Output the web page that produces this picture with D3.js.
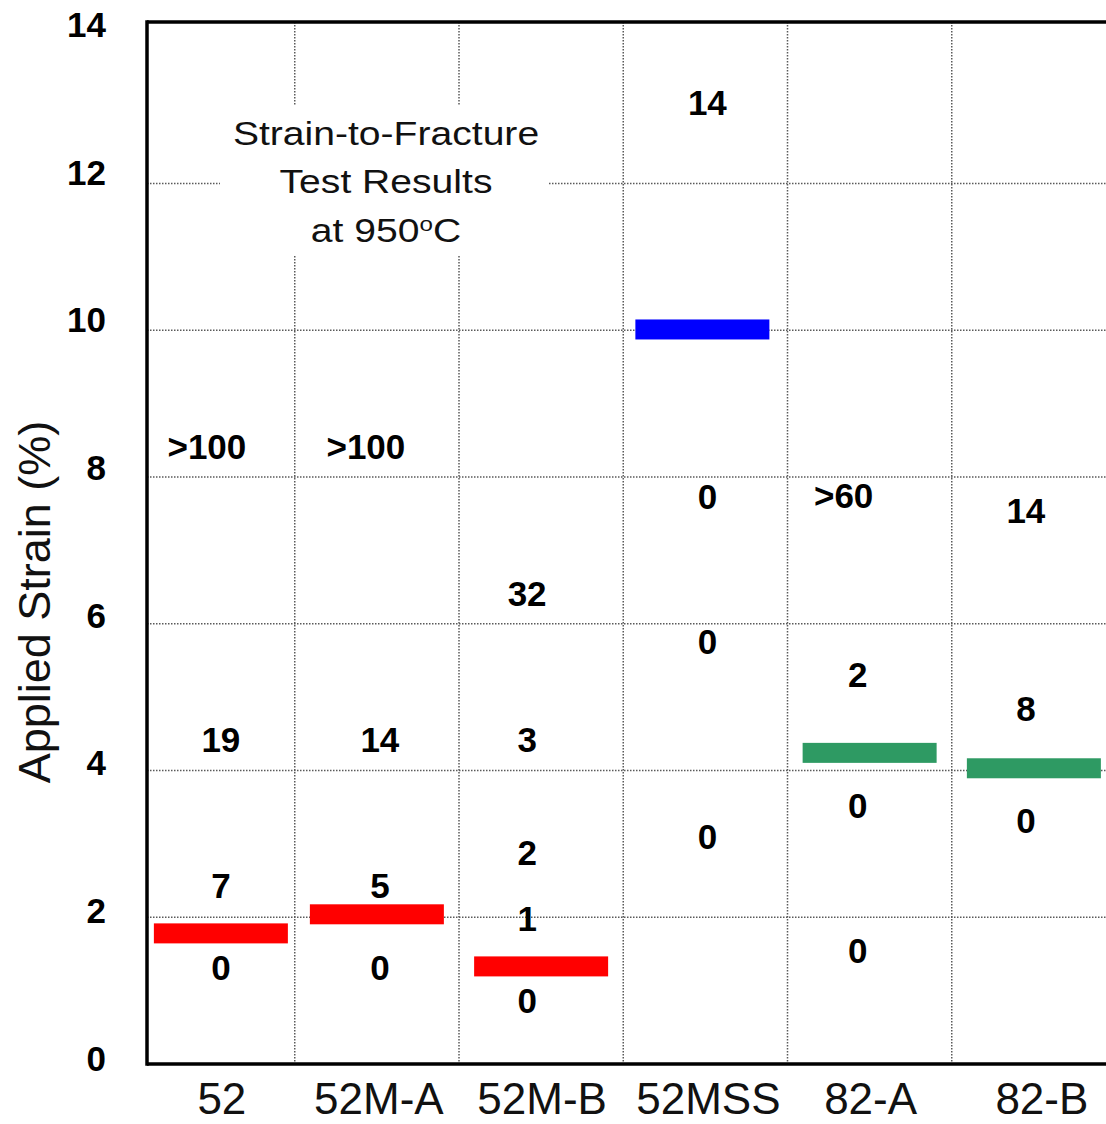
<!DOCTYPE html>
<html>
<head>
<meta charset="utf-8">
<script src="https://cdn.jsdelivr.net/npm/d3@7"></script>
<style>
  html, body { margin: 0; padding: 0; background: #fff; }
  svg { display: block; }
</style>
</head>
<body>
<svg id="chart" width="1106" height="1124"></svg>
<script>
// ---------- DATA ----------
const categories = ["52", "52M-A", "52M-B", "52MSS", "82-A", "82-B"];
// applied strain (%) at which each alloy fractured (the horizontal bar)
const fractureStrain = [1.78, 2.04, 1.33, 10.01, 4.24, 4.03];
const barGroup = ["52", "52", "52", "52MSS", "82", "82"];
// crack counts written in each column, with the strain level where they sit
const countCategory = ["52", "52", "52", "52",
  "52M-A", "52M-A", "52M-A", "52M-A",
  "52M-B", "52M-B", "52M-B", "52M-B", "52M-B",
  "52MSS", "52MSS", "52MSS", "52MSS",
  "82-A", "82-A", "82-A", "82-A",
  "82-B", "82-B", "82-B"];
const countText = [">100", "19", "7", "0",
  ">100", "14", "5", "0",
  "32", "3", "2", "1", "0",
  "14", "0", "0", "0",
  ">60", "2", "0", "0",
  "14", "8", "0"];
const countStrain = [8.42, 4.43, 2.43, 1.32,
  8.42, 4.43, 2.43, 1.32,
  6.41, 4.43, 2.88, 1.98, 0.86,
  13.11, 7.73, 5.76, 3.10,
  7.75, 5.31, 3.52, 1.55,
  7.55, 4.85, 3.32];
const yTicks = [0, 2, 4, 6, 8, 10, 12, 14];
const gridValues = [2, 4, 6, 8, 10, 12];
const titleLines = ["Strain-to-Fracture", "Test Results", "at 950"];
const yTitle = "Applied Strain (%)";

// ---------- LAYOUT / STYLE ----------
const svg = d3.select("#chart");
const plotLeft = 147, plotRight = 1106, plotTop = 22, plotBottom = 1064;
const yMax = 14.2;
const groupColor = { "52": "#ff0000", "52MSS": "#0000ff", "82": "#2e9a63" };
const colNudge = [0, 3, -14, 2, -12, -8];   // crack-count centring inside columns
const catNudge = [1, 2, 1, 3, 1, 8];        // category label centring
const numFont = "'Liberation Sans', Arial, sans-serif";

const x = d3.scaleBand().domain(categories).range([130.5, 1116]).padding(0);
const y = d3.scaleLinear().domain([0, yMax]).range([plotBottom, plotTop]);

const cellLeft = c => Math.max(x(c), plotLeft);
const cellCenter = c => (cellLeft(c) + x(c) + x.bandwidth()) / 2;

// ---------- GRID ----------
const grid = svg.append("g");
grid.selectAll("line.h").data(gridValues).join("line")
  .attr("x1", plotLeft).attr("x2", plotRight)
  .attr("y1", d => y(d)).attr("y2", d => y(d))
  .attr("stroke", "#5a5a5a").attr("stroke-width", 1.5)
  .attr("stroke-dasharray", "1.5,1.5");
grid.selectAll("line.v").data(categories.slice(1)).join("line")
  .attr("x1", d => x(d)).attr("x2", d => x(d))
  .attr("y1", plotTop).attr("y2", plotBottom)
  .attr("stroke", "#5a5a5a").attr("stroke-width", 1.5)
  .attr("stroke-dasharray", "1.5,1.5");

// ---------- TITLE (white box masks grid) ----------
svg.append("rect").attr("x", 220).attr("y", 105).attr("width", 328).attr("height", 150)
  .attr("fill", "#fff");
const titleG = svg.append("g");
const baselines = [145, 193, 242];
titleLines.forEach((t, i) => {
  const tx = titleG.append("text")
    .attr("transform", `translate(386,${baselines[i]}) scale(1.15,1)`)
    .attr("text-anchor", "middle")
    .attr("font-family", numFont)
    .attr("font-size", 34)
    .attr("fill", "#111")
    .text(t);
  if (i === 2) {
    tx.append("tspan").attr("font-size", 21).attr("dy", -11).text("o");
    tx.append("tspan").attr("dy", 11).text("C");
  }
});

// ---------- BARS ----------
const barW = 134, barH = 20;
svg.append("g").selectAll("rect").data(categories).join("rect")
  .attr("x", (d, i) => cellCenter(d) - barW / 2 + (i === 3 ? -3 : 0))
  .attr("y", (d, i) => y(fractureStrain[i]) - barH / 2)
  .attr("width", barW).attr("height", barH)
  .attr("fill", (d, i) => groupColor[barGroup[i]]);

// ---------- CRACK COUNT LABELS ----------
svg.append("g").selectAll("text").data(countText).join("text")
  .attr("x", (d, i) => {
    const c = countCategory[i];
    return cellCenter(c) + colNudge[categories.indexOf(c)] + (d.startsWith(">") ? -14 : 0);
  })
  .attr("y", (d, i) => y(countStrain[i]))
  .attr("dy", "0.36em")
  .attr("text-anchor", "middle")
  .attr("font-family", numFont)
  .attr("font-weight", "bold")
  .attr("font-size", 35)
  .attr("fill", "#000")
  .text(d => d);

// ---------- Y AXIS ----------
const yAxis = svg.append("g").attr("transform", `translate(106,0)`)
  .call(d3.axisLeft(y).tickValues(yTicks).tickSize(0).tickPadding(0).tickFormat(d3.format("d")));
yAxis.select(".domain").remove();
yAxis.selectAll(".tick text")
  .attr("dy", d => (-6.5 - 0.45 * d + 12.5) + "px")
  .attr("font-family", numFont)
  .attr("font-weight", "bold")
  .attr("font-size", 35)
  .attr("fill", "#000");

svg.append("text")
  .attr("transform", "translate(50,602) rotate(-90)")
  .attr("text-anchor", "middle")
  .attr("font-family", numFont)
  .attr("font-size", 45)
  .attr("fill", "#111")
  .text(yTitle);

// ---------- X LABELS ----------
svg.append("g").selectAll("text").data(categories).join("text")
  .attr("x", (d, i) => cellCenter(d) + catNudge[i])
  .attr("y", 1114)
  .attr("text-anchor", "middle")
  .attr("font-family", numFont)
  .attr("font-size", 44)
  .attr("fill", "#111")
  .text(d => d);

// ---------- FRAME ----------
const frame = svg.append("g").attr("stroke", "#000").attr("stroke-width", 3.5);
frame.append("line").attr("x1", plotLeft).attr("x2", plotLeft).attr("y1", plotTop - 1.75).attr("y2", plotBottom + 1.75);
frame.append("line").attr("x1", plotLeft).attr("x2", plotRight).attr("y1", plotBottom).attr("y2", plotBottom);
frame.append("line").attr("x1", plotLeft).attr("x2", plotRight).attr("y1", plotTop).attr("y2", plotTop);
</script>
</body>
</html>
